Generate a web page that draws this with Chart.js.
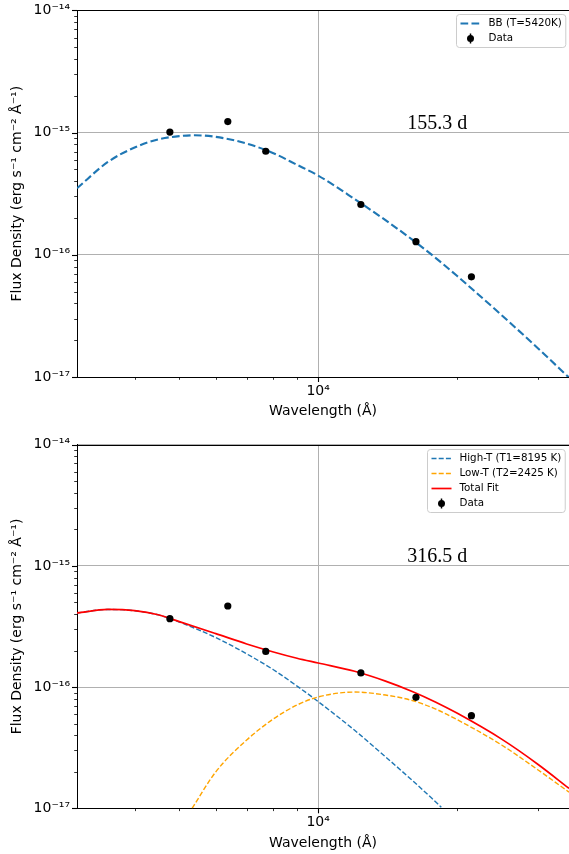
<!DOCTYPE html>
<html>
<head>
<meta charset="utf-8">
<script src="https://cdn.jsdelivr.net/npm/chart.js@4.4.1/dist/chart.umd.min.js"></script>
<style>
    html, body { margin: 0; padding: 0; background: #fff; }
    body { width: 569px; height: 854px; overflow: hidden; }
    .panel { position: relative; width: 569px; }
    canvas { display: block; }
</style>
</head>
<body>
<div class="panel" style="height:430px"><canvas id="sed155" width="569" height="430"></canvas></div>
<div class="panel" style="height:424px"><canvas id="sed316" width="569" height="424"></canvas></div>
<script>
/* ---- axis ranges and tick labels ---- */
const xLimits = [3000, 35000];
const yLimits = [1e-17, 1e-14];
const xMajorTicks = [10000];
const xMajorLabels = ['10⁴'];
const xMinorTicks = [4000, 5000, 6000, 7000, 8000, 9000, 20000, 30000];
const yDecades = [-17, -16, -15, -14];
const yMajorLabels = ['10⁻¹⁷', '10⁻¹⁶', '10⁻¹⁵', '10⁻¹⁴'];

/* ---- photometry (same bands in both epochs) ---- */
const obsWave = [4770, 6370, 7700, 12380, 16300, 21500];
const obsFlux155 = [1.01e-15, 1.23e-15, 7.04e-16, 2.58e-16, 1.28e-16, 6.6e-17];
const obsFlux316 = [3.67e-16, 4.67e-16, 1.97e-16, 1.31e-16, 8.24e-17, 5.81e-17];

/* ---- 155.3 d single blackbody ---- */
const bbWave = [3000, 3500, 4000, 4500, 5000, 5400, 6000, 7000, 8000, 9000, 10000,
                12000, 14000, 16000, 18000, 20000, 25000, 30000, 35000];
const bbFlux = [3.5e-16, 5.75e-16, 7.55e-16, 8.8e-16, 9.36e-16, 9.51e-16, 9.23e-16, 8.13e-16,
                6.78e-16, 5.45e-16, 4.45e-16, 2.86e-16, 1.92e-16, 1.33e-16, 9.4e-17, 6.73e-17,
                3.21e-17, 1.71e-17, 9.9e-18];

/* ---- 316.5 d two-component fit ---- */
const hotWave = [3000, 3500, 4000, 4500, 5000, 6000, 7000, 8000, 9000, 10000,
                 12000, 14000, 16000, 17600, 18500];
const hotFlux = [4.09e-16, 4.37e-16, 4.27e-16, 3.94e-16, 3.44e-16, 2.56e-16, 1.88e-16, 1.39e-16,
                 1.02e-16, 7.6e-17, 4.4e-17, 2.66e-17, 1.7e-17, 1.22e-17, 1.02e-17];
const coolWave = [5330, 6000, 7000, 8000, 9000, 10000, 12000, 14000, 16000, 18000,
                  20000, 25000, 30000, 35000];
const coolFlux = [1.0e-17, 2.0e-17, 3.66e-17, 5.46e-17, 7.11e-17, 8.29e-17, 9.1e-17, 8.6e-17,
                  7.75e-17, 6.58e-17, 5.4e-17, 3.33e-17, 2.07e-17, 1.36e-17];
const totalWave = [3000, 3500, 4000, 4500, 5000, 6000, 7000, 8000, 9000, 10000,
                   12000, 14000, 16000, 18000, 20000, 25000, 30000, 35000];
const totalFlux = [4.09e-16, 4.37e-16, 4.27e-16, 3.95e-16, 3.47e-16, 2.76e-16, 2.27e-16, 1.95e-16,
                   1.73e-16, 1.58e-16, 1.35e-16, 1.12e-16, 9.2e-17, 7.5e-17, 6.1e-17, 3.72e-17,
                   2.3e-17, 1.46e-17];

const FONT = 'DejaVu Sans';

function toPoints(xs, ys) {
    return xs.map((x, i) => ({ x: x, y: ys[i] }));
}

// tick objects for the log axes, majors carry their label text
function xTickList() {
    const list = xMajorTicks.map((v, i) => ({ value: v, major: true, text: xMajorLabels[i] }))
        .concat(xMinorTicks.map(v => ({ value: v, major: false, text: '' })));
    return list.sort((a, b) => a.value - b.value);
}

function yTickList() {
    const list = [];
    yDecades.forEach((e, i) => {
        const base = Math.pow(10, e);
        list.push({ value: base, major: true, text: yMajorLabels[i] });
        if (i < yDecades.length - 1) {
            for (let m = 2; m <= 9; m++) list.push({ value: m * base, major: false, text: '' });
        }
    });
    return list;
}

// spines, tick marks, epoch label and the boxed legend
const panelDecor = {
    id: 'panelDecor',
    afterDraw(chart, args, opts) {
        const ctx = chart.ctx;
        const area = chart.chartArea;
        const xs = chart.scales.x, ys = chart.scales.y;
        ctx.save();

        // top spine
        ctx.strokeStyle = '#000';
        ctx.lineWidth = 1;
        ctx.beginPath();
        ctx.moveTo(area.left, Math.round(area.top) + 0.5);
        ctx.lineTo(area.right, Math.round(area.top) + 0.5);
        ctx.stroke();

        // tick marks (major long, minor short)
        xs.ticks.forEach(t => {
            if (t.value <= xs.min || t.value > xs.max) return;
            const px = Math.round(xs.getPixelForValue(t.value)) + 0.5;
            ctx.lineWidth = t.major ? 1.1 : 0.8;
            ctx.beginPath();
            ctx.moveTo(px, area.bottom);
            ctx.lineTo(px, area.bottom + (t.major ? 5 : 2.8));
            ctx.stroke();
        });
        ys.ticks.forEach(t => {
            if (t.value < ys.min || t.value > ys.max) return;
            const py = Math.round(ys.getPixelForValue(t.value)) + 0.5;
            ctx.lineWidth = t.major ? 1.1 : 0.8;
            ctx.beginPath();
            ctx.moveTo(area.left, py);
            ctx.lineTo(area.left - (t.major ? 5 : 2.8), py);
            ctx.stroke();
        });

        // epoch label
        ctx.fillStyle = '#000';
        ctx.font = '20px "Liberation Serif"';
        ctx.textAlign = 'center';
        ctx.textBaseline = 'alphabetic';
        ctx.fillText(opts.note, area.left + 0.732 * (area.right - area.left),
                     area.top + 0.3235 * (area.bottom - area.top));

        // legend
        const items = chart.data.datasets;
        ctx.font = '10.3px "' + FONT + '"';
        const textW = Math.max(...items.map(d => ctx.measureText(d.label).width));
        const pad = 4, handle = 20, gap = 8, rowH = 10, rowGap = 5;
        const w = pad + handle + gap + textW + pad;
        const h = pad * 2 + items.length * rowH + (items.length - 1) * rowGap;
        const x0 = Math.round(area.right - 4 - w) + 0.5;
        const y0 = Math.round(area.top + 4) + 0.5;
        ctx.beginPath();
        ctx.roundRect(x0, y0, w, h, 3);
        ctx.fillStyle = 'rgba(255,255,255,0.8)';
        ctx.fill();
        ctx.strokeStyle = '#cccccc';
        ctx.lineWidth = 1;
        ctx.stroke();

        ctx.textAlign = 'left';
        ctx.textBaseline = 'middle';
        items.forEach((d, i) => {
            const cy = y0 + pad + rowH / 2 + i * (rowH + rowGap);
            const hx = x0 + pad;
            if (d.showLine) {
                ctx.strokeStyle = d.borderColor;
                ctx.lineWidth = d.borderWidth;
                ctx.setLineDash(d.borderDash || []);
                ctx.beginPath();
                ctx.moveTo(hx, cy);
                ctx.lineTo(hx + handle, cy);
                ctx.stroke();
                ctx.setLineDash([]);
            } else {
                ctx.strokeStyle = '#000';
                ctx.lineWidth = 1.5;
                ctx.beginPath();
                ctx.moveTo(hx + handle / 2, cy - 5);
                ctx.lineTo(hx + handle / 2, cy + 5);
                ctx.stroke();
                ctx.fillStyle = '#000';
                ctx.beginPath();
                ctx.arc(hx + handle / 2, cy, 3.5, 0, Math.PI * 2);
                ctx.fill();
            }
            ctx.fillStyle = '#000';
            ctx.fillText(d.label, hx + handle + gap, cy);
        });
        ctx.restore();
    }
};

function buildPanel(canvasId, datasets, note, layout) {
    const ctx = document.getElementById(canvasId);
    return new Chart(ctx, {
        type: 'scatter',
        data: { datasets: datasets },
        options: {
            responsive: false,
            animation: false,
            devicePixelRatio: 1,
            layout: {
                autoPadding: false,
                padding: { top: layout.top, right: 0, bottom: 0, left: 0 }
            },
            plugins: {
                legend: { display: false },
                tooltip: { enabled: false },
                panelDecor: { note: note }
            },
            scales: {
                x: {
                    type: 'logarithmic',
                    min: xLimits[0],
                    max: xLimits[1],
                    afterBuildTicks: s => { s.ticks = xTickList(); },
                    afterFit: s => {
                        s.height = layout.xHeight;
                        s.paddingLeft = 0;
                        s.paddingRight = 0;
                    },
                    ticks: {
                        autoSkip: false,
                        maxRotation: 0,
                        minRotation: 0,
                        padding: 1,
                        color: '#000',
                        font: { family: FONT, size: 14 },
                        callback: (v, i, ticks) => ticks[i].text
                    },
                    grid: {
                        color: c => (c.tick && c.tick.major) ? '#b0b0b0' : 'rgba(0,0,0,0)',
                        lineWidth: 1,
                        tickLength: 5,
                        tickColor: 'rgba(0,0,0,0)'
                    },
                    border: { display: true, color: '#000', width: 1 },
                    title: {
                        display: true,
                        text: 'Wavelength (Å)',
                        color: '#000',
                        font: { family: FONT, size: 14 },
                        padding: { top: 0, bottom: layout.titlePad }
                    }
                },
                y: {
                    type: 'logarithmic',
                    min: yLimits[0],
                    max: yLimits[1],
                    afterBuildTicks: s => { s.ticks = yTickList(); },
                    afterFit: s => { s.width = 77; },
                    ticks: {
                        autoSkip: false,
                        padding: 2,
                        color: '#000',
                        font: { family: FONT, size: 14 },
                        callback: (v, i, ticks) => ticks[i].text
                    },
                    grid: {
                        color: c => (c.tick && c.tick.major) ? '#b0b0b0' : 'rgba(0,0,0,0)',
                        lineWidth: 1,
                        tickLength: 5,
                        tickColor: 'rgba(0,0,0,0)'
                    },
                    border: { display: true, color: '#000', width: 1 },
                    title: {
                        display: true,
                        text: 'Flux Density (erg s⁻¹ cm⁻² Å⁻¹)',
                        color: '#000',
                        font: { family: FONT, size: 14 },
                        padding: { top: 9, bottom: 0 }
                    }
                }
            }
        },
        plugins: [panelDecor]
    });
}

function dataSet(flux) {
    return {
        label: 'Data',
        data: toPoints(obsWave, flux),
        showLine: false,
        pointRadius: 3.6,
        pointBackgroundColor: '#000',
        pointBorderColor: '#000',
        pointBorderWidth: 0,
        order: 0
    };
}

// Top panel: 155.3 d
buildPanel('sed155', [
    {
        label: 'BB (T=5420K)',
        data: toPoints(bbWave, bbFlux),
        showLine: true,
        borderColor: '#1f77b4',
        borderWidth: 2.1,
        borderDash: [7.7, 3.3],
        pointRadius: 0,
        cubicInterpolationMode: 'monotone',
        order: 1
    },
    dataSet(obsFlux155)
], '155.3 d', { top: 10, xHeight: 53, titlePad: 10 });

// Bottom panel: 316.5 d
buildPanel('sed316', [
    {
        label: 'High-T (T1=8195 K)',
        data: toPoints(hotWave, hotFlux),
        showLine: true,
        borderColor: '#1f77b4',
        borderWidth: 1.4,
        borderDash: [5, 2.2],
        pointRadius: 0,
        cubicInterpolationMode: 'monotone',
        order: 3
    },
    {
        label: 'Low-T (T2=2425 K)',
        data: toPoints(coolWave, coolFlux),
        showLine: true,
        borderColor: '#ffa500',
        borderWidth: 1.4,
        borderDash: [5, 2.2],
        pointRadius: 0,
        cubicInterpolationMode: 'monotone',
        order: 2
    },
    {
        label: 'Total Fit',
        data: toPoints(totalWave, totalFlux),
        showLine: true,
        borderColor: '#ff0000',
        borderWidth: 1.7,
        pointRadius: 0,
        cubicInterpolationMode: 'monotone',
        order: 1
    },
    dataSet(obsFlux316)
], '316.5 d', { top: 14.7, xHeight: 45.7, titlePad: 2.3 });
</script>
</body>
</html>
